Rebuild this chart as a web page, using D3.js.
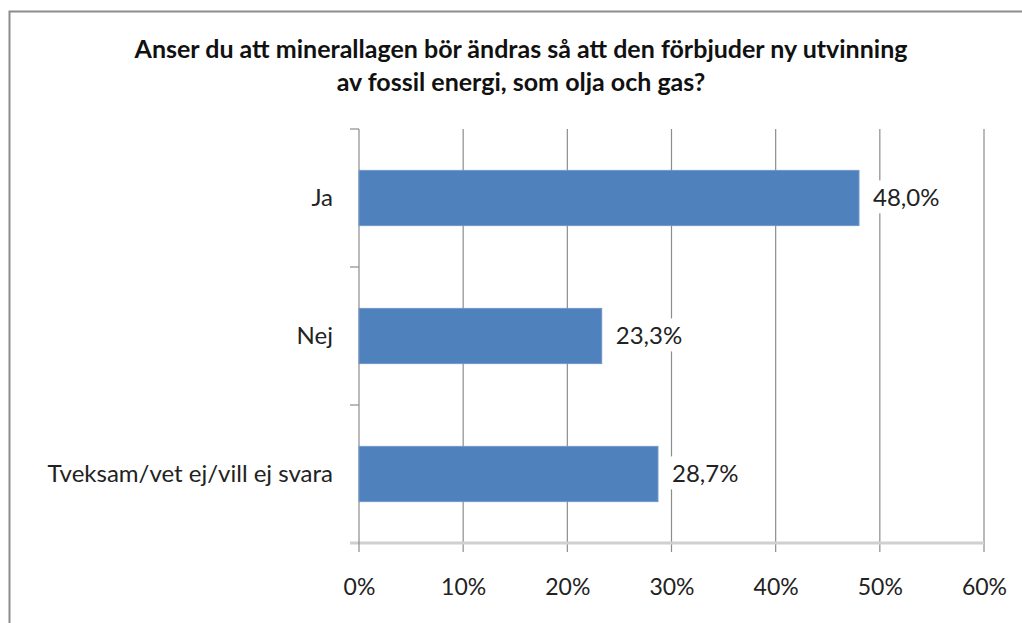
<!DOCTYPE html>
<html>
<head>
<meta charset="utf-8">
<script src="https://cdn.jsdelivr.net/npm/d3@7"></script>
<style>
  body { margin: 0; background: #fff; }
  text { font-family: Lato, "Open Sans", sans-serif; fill: #222; }
</style>
</head>
<body>
<div id="chart"></div>
<script>
var width = 1022,
  height = 623;

var categories = ["Ja", "Nej", "Tveksam/vet ej/vill ej svara"];
var values = [48.0, 23.3, 28.7];
var valueLabels = ["48,0%", "23,3%", "28,7%"];
var tickValues = [0, 10, 20, 30, 40, 50, 60];
var titleLines = ["Anser du att minerallagen bör ändras så att den förbjuder ny utvinning",
  "av fossil energi, som olja och gas?"];

var margin = { top: 129, right: 38, bottom: 80, left: 359 };

var svg = d3.select("#chart").append("svg")
  .attr("width", width)
  .attr("height", height);

// chart border
svg.append("path")
  .attr("d", "M9.5," + height + "V11.5H" + width)
  .attr("fill", "none")
  .attr("stroke", "#8c8c8c")
  .attr("stroke-width", 2);

var x = d3.scaleLinear().domain([0, 60]).range([margin.left, width - margin.right]);
var y = d3.scaleBand().domain(categories).range([margin.top, height - margin.bottom]).paddingInner(0.6).paddingOuter(0.3);
var yOuter = d3.scaleBand().domain(categories).range([margin.top, height - margin.bottom]);

// title
svg.append("g").selectAll("text").data(titleLines).enter().append("text")
  .attr("x", 521)
  .attr("y", function (d, i) { return 58 + i * 33; })
  .attr("text-anchor", "middle")
  .style("font-size", "25px")
  .style("font-weight", "bold")
  .style("fill", "#111")
  .text(function (d) { return d; });

// gridlines
svg.append("g").selectAll("line").data(tickValues.slice(1)).enter().append("line")
  .attr("x1", function (d) { return x(d); })
  .attr("x2", function (d) { return x(d); })
  .attr("y1", margin.top)
  .attr("y2", height - margin.bottom + 9)
  .attr("stroke", "#8c8c8c")
  .attr("stroke-width", 1.2);

// bottom axis
var xAxis = d3.axisBottom(x).tickValues(tickValues).tickSize(0).tickFormat(function (d) { return d + "%"; });
var gx = svg.append("g")
  .attr("transform", "translate(0," + (height - margin.bottom) + ")")
  .call(xAxis);
gx.select(".domain").attr("stroke", "#d0d0d0").attr("stroke-width", 3)
  .attr("d", "M" + (margin.left - 9) + ",0H" + x(60));
gx.selectAll("text").attr("dy", 0).attr("y", 52).style("font-size", "23px").style("fill", "#222");

// left axis
var gy = svg.append("g");
gy.append("line")
  .attr("x1", margin.left).attr("x2", margin.left)
  .attr("y1", margin.top).attr("y2", height - margin.bottom + 9)
  .attr("stroke", "#8c8c8c").attr("stroke-width", 1.2);
var bounds = categories.map(function (c) { return yOuter(c); });
gy.selectAll(".tk").data(bounds).enter().append("line")
  .attr("class", "tk")
  .attr("x1", margin.left - 9).attr("x2", margin.left)
  .attr("y1", function (d) { return d; }).attr("y2", function (d) { return d; })
  .attr("stroke", "#8c8c8c").attr("stroke-width", 1.2);
gy.selectAll(".cat").data(categories).enter().append("text")
  .attr("class", "cat")
  .attr("x", margin.left - 26)
  .attr("y", function (d) { return y(d) + y.bandwidth() / 2; })
  .attr("dy", "0.35em")
  .attr("text-anchor", "end")
  .style("font-size", "24px")
  .text(function (d) { return d; });

// bars
svg.append("g").selectAll("rect").data(values).enter().append("rect")
  .attr("x", x(0))
  .attr("y", function (d, i) { return y(categories[i]); })
  .attr("width", function (d) { return x(d) - x(0); })
  .attr("height", y.bandwidth())
  .attr("fill", "#4f81bd")
  .attr("stroke", "#6f97c9")
  .attr("stroke-width", 1);

// value labels with white background
var lab = svg.append("g").selectAll("g").data(values).enter().append("g")
  .attr("transform", function (d, i) {
    return "translate(" + (x(d) + 14) + "," + (y(categories[i]) + y.bandwidth() / 2) + ")";
  });
lab.append("text")
  .attr("dy", "0.35em")
  .style("font-size", "24px")
  .text(function (d, i) { return valueLabels[i]; })
  .each(function () {
    var b = this.getBBox();
    d3.select(this.parentNode).insert("rect", "text")
      .attr("x", b.x - 2).attr("y", b.y - 2)
      .attr("width", b.width + 4).attr("height", b.height + 4)
      .attr("fill", "#fff");
  });
</script>
</body>
</html>
